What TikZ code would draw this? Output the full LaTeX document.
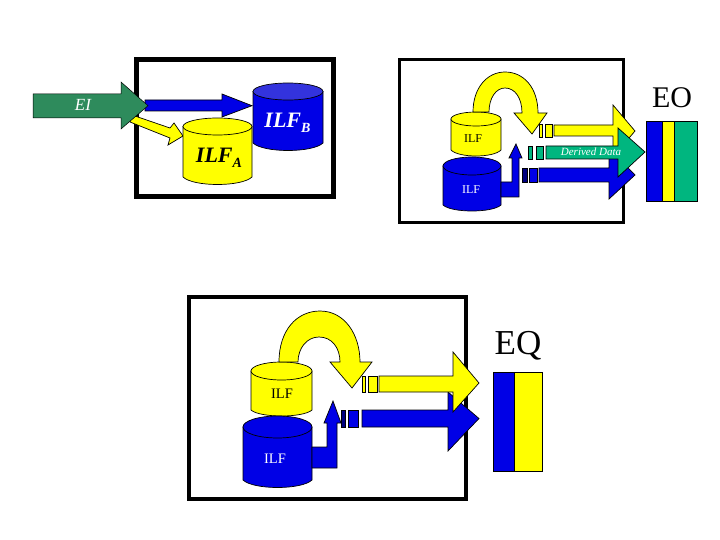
\documentclass[tikz,border=0pt]{standalone}
\usepackage{fontspec}
\setmainfont{Liberation Serif}
\definecolor{cy}{HTML}{FFFF00}
\definecolor{cb}{HTML}{0000E6}
\definecolor{cbt}{HTML}{3333DD}
\definecolor{cbd}{HTML}{00007F}
\definecolor{cg}{HTML}{2E8B5C}
\definecolor{cd}{HTML}{00B67F}
\tikzset{
  frame/.style={draw=black,fill=white},
  shapeb/.style={draw=black,line width=0.7pt,line join=miter,fill=#1},
  lbl/.style={inner sep=0pt,align=center}
}
% x1 x2 ytop(ellipse top) ellipse-ry yside ybottom colour topcolour
\newcommand{\cylshape}[8]{%
  \pgfmathsetmacro{\xm}{(#1+#2)/2}%
  \pgfmathsetmacro{\xr}{(#2-#1)/2}%
  \pgfmathsetmacro{\yc}{#3+#4}%
  \draw[shapeb=#7] (#1,\yc) -- (#1,#5) .. controls (#1+\xr*0.3,#6) and (#2-\xr*0.3,#6) .. (#2,#5) -- (#2,\yc) -- cycle;
  \draw[shapeb=#8] (\xm,\yc) ellipse [x radius=\xr, y radius=#4];
}
\newcommand{\subtxt}[1]{\raisebox{-5pt}{\fontsize{14}{14}\selectfont #1}}
\begin{document}
\begin{tikzpicture}[x=1pt,y=-1pt]
\useasboundingbox (0,0) rectangle (720,540);
\fill[white] (0,0) rectangle (720,540);

% --- EI panel
\draw[frame,line width=4.5pt] (136.5,59.5) rectangle (333.5,196.5);
\cylshape{253}{323}{83}{8.5}{143}{153}{cb}{cbt}
\draw[shapeb=cy] (132,115) -- (170,128) -- (174,123) -- (183,136) -- (168,145) -- (170,138) -- (130,122) -- cycle;
\draw[shapeb=cb] (145,100) -- (222,100) -- (222,94) -- (252,105.7) -- (222,117) -- (222,111) -- (145,111) -- cycle;
\cylshape{183}{252}{118}{8.5}{177}{187}{cy}{cy}
\draw[draw=black,line width=0.5pt,fill=cg] (33,94) -- (121,94) -- (121,82) -- (148,105.7) -- (121,129) -- (121,118) -- (33,118) -- cycle;
\node[lbl,text=white,font=\itshape\fontsize{17}{17}\selectfont] (ei) at (83,105) {EI};
\node[lbl,text=black,font=\bfseries\itshape\fontsize{22}{22}\selectfont] (ilfa) at (219,158) {ILF\subtxt{A}};
\node[lbl,text=white,font=\bfseries\itshape\fontsize{22}{22}\selectfont] (ilfb) at (287.5,123) {ILF\subtxt{B}};

% --- EO panel
\draw[frame,line width=3pt] (399.5,60) rectangle (623,223);
\cylshape{451}{501}{112}{7}{150}{158}{cy}{cy}
\cylshape{443}{501}{157}{9}{205}{213}{cb}{cb}
\draw[shapeb=cy] (473,112) .. controls (473,88) and (487,72) .. (505,72) .. controls (524,72) and (538,88) .. (538,113) -- (547,113) -- (532,134) -- (514,113) -- (522,113) .. controls (522,98) and (515,88) .. (505,88) .. controls (496,88) and (489,98) .. (489,112) -- cycle;
\draw[shapeb=cb] (501,182) -- (512,182) -- (512,158) -- (509,158) -- (516,144) -- (522,158) -- (519,158) -- (519,197) -- (501,197) -- cycle;
\draw[shapeb=cbd] (522,168) rectangle (527,182);
\draw[shapeb=cb] (529,168) rectangle (537,182);
\draw[shapeb=cb] (539,168) -- (609,168) -- (609,148) -- (635,175) -- (609,199) -- (609,182) -- (539,182) -- cycle;
\draw[shapeb=cy] (539,124) rectangle (542,137);
\draw[shapeb=cy] (545,124) rectangle (552,137);
\draw[shapeb=cy] (554,125) -- (613,125) -- (613,105) -- (635,131) -- (613,157) -- (613,136) -- (554,136) -- cycle;
\draw[shapeb=cd] (528,146) rectangle (532,159);
\draw[shapeb=cd] (536,146) rectangle (543,159);
\draw[shapeb=cd] (546,146) -- (618,146) -- (618,128) -- (645,152) -- (618,177) -- (618,159) -- (546,159) -- cycle;
\node[lbl,text=white,font=\itshape\fontsize{11}{11}\selectfont] (dd) at (591,152) {Derived Data};
\node[lbl,text=black,font=\fontsize{12}{12}\selectfont] (ilfy1) at (473,139) {ILF};
\node[lbl,text=white,font=\fontsize{12}{12}\selectfont] (ilfb1) at (471,190) {ILF};
\draw[shapeb=cb] (646,121) rectangle (662,201);
\draw[shapeb=cy] (662,121) rectangle (674,201);
\draw[shapeb=cd] (674,121) rectangle (697,201);
\node[lbl,text=black,font=\fontsize{30}{30}\selectfont] (eo) at (672,98) {EO};

% --- EQ panel
\draw[frame,line width=4pt] (188.5,296.5) rectangle (465.5,498.5);
\cylshape{251}{312}{362}{9}{410}{418}{cy}{cy}
\cylshape{243}{312}{416}{11}{480}{490}{cb}{cb}
\draw[shapeb=cy] (279,362) .. controls (279,330) and (297,311) .. (320,311) .. controls (345,311) and (360,335) .. (360,362) -- (372,362) -- (352,388) -- (330,362) -- (340,362) .. controls (340,348) and (332,337) .. (319,337) .. controls (307,337) and (298,348) .. (298,362) -- cycle;
\draw[shapeb=cb] (312,447) -- (327,447) -- (327,423) -- (324,423) -- (333,401) -- (341,423) -- (337,423) -- (337,468) -- (312,468) -- cycle;
\draw[shapeb=cbd] (341,410) rectangle (345,427);
\draw[shapeb=cb] (348,410) rectangle (358,427);
\draw[shapeb=cb] (362,410) -- (448,410) -- (448,392) -- (479,418.5) -- (448,451) -- (448,427) -- (362,427) -- cycle;
\draw[shapeb=cy] (362,376) rectangle (365,392);
\draw[shapeb=cy] (368,376) rectangle (377,392);
\draw[shapeb=cy] (379,376) -- (453,376) -- (453,352) -- (479,383) -- (453,412) -- (453,392) -- (379,392) -- cycle;
\node[lbl,text=black,font=\fontsize{14.5}{14.5}\selectfont] (ilfy2) at (282,394) {ILF};
\node[lbl,text=white,font=\fontsize{14.5}{14.5}\selectfont] (ilfb2) at (275,459) {ILF};
\draw[shapeb=cb] (493,372) rectangle (514,471);
\draw[shapeb=cy] (514,372) rectangle (542,471);
\node[lbl,text=black,font=\fontsize{35}{35}\selectfont] (eq) at (518,346) {EQ};
\end{tikzpicture}
\end{document}
